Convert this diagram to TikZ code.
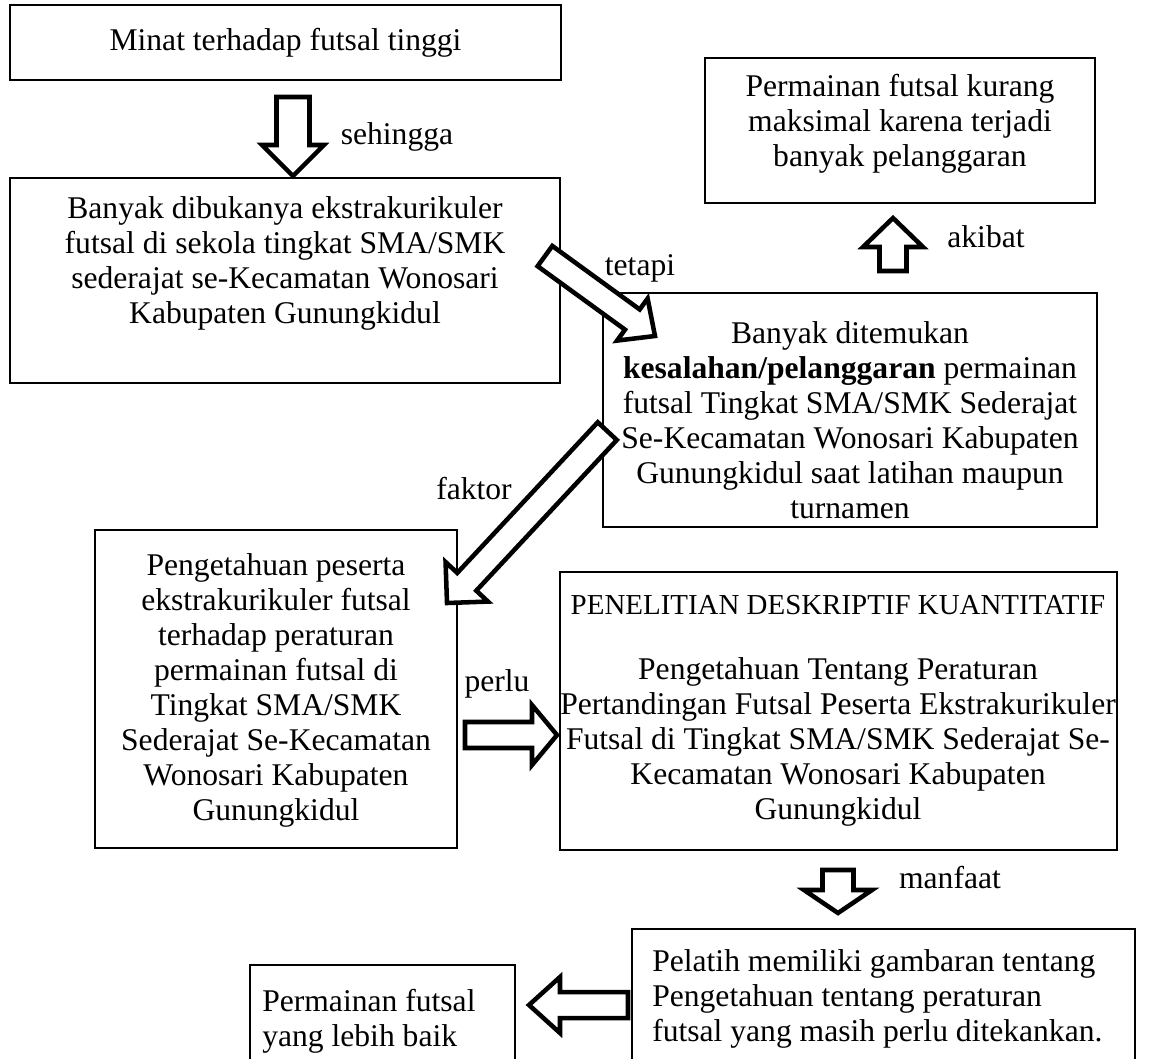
\documentclass[tikz,border=0pt]{standalone}
\usepackage{fontspec}
\setmainfont{Liberation Serif}
\usetikzlibrary{fit}
\newcommand\blockarr[7]{% tip x, tip y, angle, length, shaft half width, head half width, head length
  \begin{scope}[shift={(#1,#2)}, rotate=#3]
    \draw[barrow] (0,0) -- (-#7,#6) -- (-#7,#5) -- (-#4,#5) -- (-#4,-#5) -- (-#7,-#5) -- (-#7,-#6) -- cycle;
  \end{scope}}
\begin{document}
\begin{tikzpicture}[x=0.75pt,y=-0.75pt,
  box/.style={draw, line width=0.8pt, inner sep=0pt},
  txt/.style={font=\fontsize{23.7pt}{26.25pt}\selectfont, align=center, inner sep=0pt},
  ltxt/.style={font=\fontsize{23.7pt}{26.25pt}\selectfont, align=left, inner sep=0pt, anchor=west},
  lbl/.style={font=\fontsize{23.7pt}{26.25pt}\selectfont, inner sep=0pt},
  barrow/.style={draw, line width=3.4pt, miter limit=10, fill=white}]
\clip (0,0) rectangle (1157,1058);
\fill[white] (0,0) rectangle (1157,1058);

% boxes
\node[box, fit={(10,5) (561,80)}] (A) {};
\node[box, fit={(10,178) (560,383)}] (B) {};
\node[box, fit={(705,58) (1095,203)}] (C) {};
\node[box, fit={(603,293) (1097,527)}] (D) {};
\node[box, fit={(95,530) (457,848)}] (E) {};
\node[box, fit={(560,572) (1117,850)}] (F) {};
\node[box, fit={(632,929) (1135,1080)}] (G) {};
\node[box, fit={(250,965) (515,1080)}] (H) {};

% texts
\node[txt] (At) at (A.center) {Minat terhadap futsal tinggi};
\node[txt] (Bt) at (285,263) {Banyak dibukanya ekstrakurikuler\\futsal di sekola tingkat SMA/SMK\\sederajat se-Kecamatan Wonosari\\Kabupaten Gunungkidul};
\node[txt] (Ct) at (900,124) {Permainan futsal kurang\\maksimal karena terjadi\\banyak pelanggaran};
\node[txt] (Dt) at (850,420) {Banyak ditemukan\\\textbf{kesalahan/pelanggaran} permainan\\futsal Tingkat SMA/SMK Sederajat\\Se-Kecamatan Wonosari Kabupaten\\Gunungkidul saat latihan maupun\\turnamen};
\node[txt] (Et) at (276,690) {Pengetahuan peserta\\ekstrakurikuler futsal\\terhadap peraturan\\permainan futsal di\\Tingkat SMA/SMK\\Sederajat Se-Kecamatan\\Wonosari Kabupaten\\Gunungkidul};
\node[txt] (Ft) at (838,711) {{\fontsize{21.7pt}{26.25pt}\selectfont PENELITIAN DESKRIPTIF KUANTITATIF}\\[22.5pt]Pengetahuan Tentang Peraturan\\Pertandingan Futsal Peserta Ekstrakurikuler\\Futsal di Tingkat SMA/SMK Sederajat Se-\\Kecamatan Wonosari Kabupaten\\Gunungkidul};
\node[ltxt] (Gt) at (652,999) {Pelatih memiliki gambaran tentang\\Pengetahuan tentang peraturan\\futsal yang masih perlu ditekankan.};
\node[ltxt] (Ht) at (262,1021) {Permainan futsal\\yang lebih baik};

% block arrows
\blockarr{293}{176}{-90}{79}{16.5}{31}{31}
\blockarr{655}{336}{-36}{136}{12.5}{26}{28}
\blockarr{447}{603}{-133}{235}{13}{29}{29}
\blockarr{893}{218}{90}{53}{13.5}{30}{29}
\blockarr{557}{735}{0}{92}{13}{30}{25}
\blockarr{838}{913}{-90}{43}{15.5}{34}{23}
\blockarr{529}{1005}{180}{99}{13}{28}{31}

% labels
\node[lbl] (l1) at (397,137) {sehingga};
\node[lbl] (l2) at (640,268) {tetapi};
\node[lbl] (l3) at (474,489) {faktor};
\node[lbl] (l4) at (986,237) {akibat};
\node[lbl] (l5) at (497,684) {perlu};
\node[lbl] (l6) at (950,878) {manfaat};
\end{tikzpicture}
\end{document}
